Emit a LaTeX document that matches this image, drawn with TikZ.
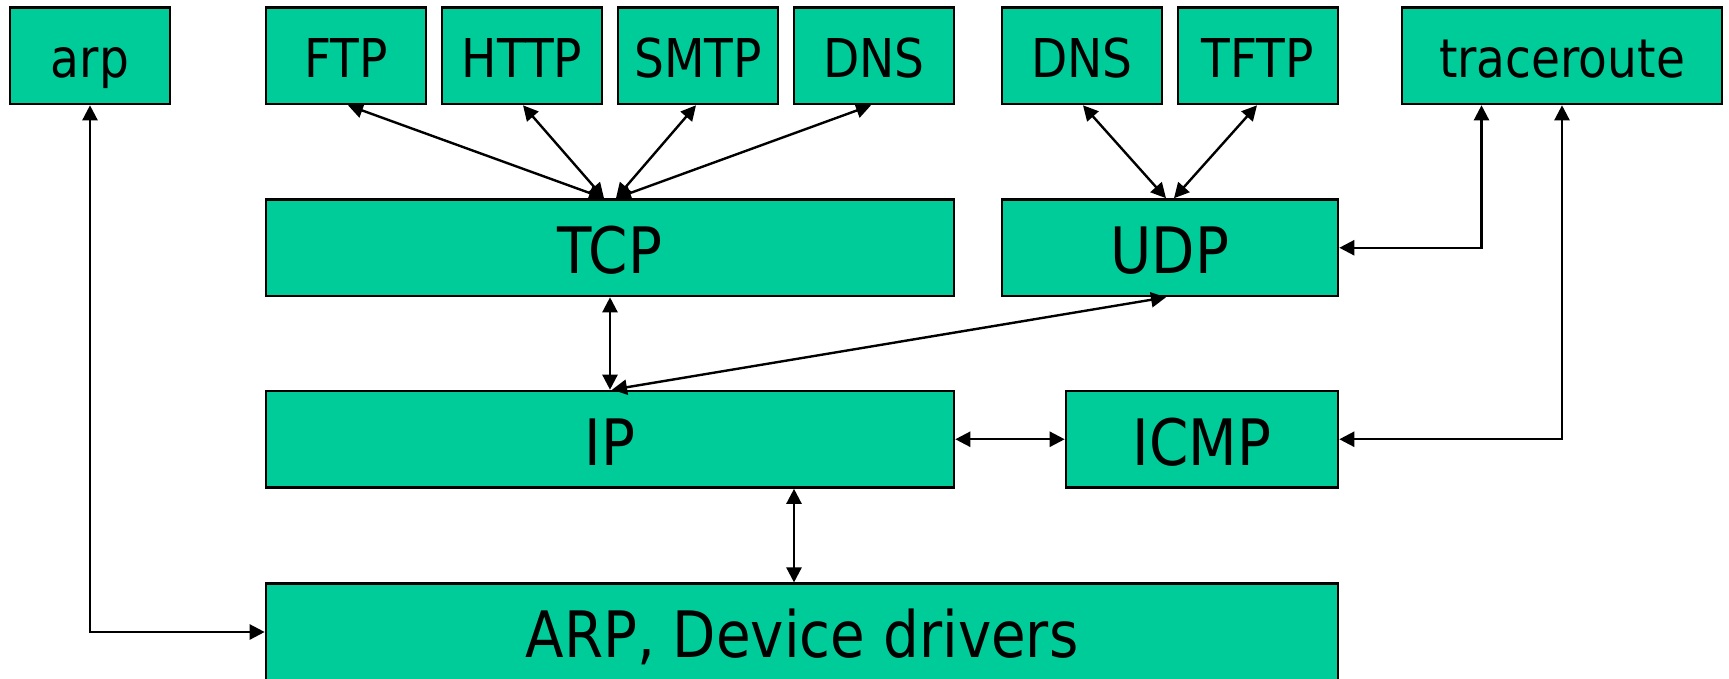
\documentclass[tikz,border=0pt]{standalone}
\usepackage{fontspec}
\setmainfont{DejaVu Sans}[FakeStretch=0.88]
\usetikzlibrary{arrows.meta,calc}
\definecolor{boxgreen}{RGB}{0,204,153}
\begin{document}
\begin{tikzpicture}[x=1pt,y=-1pt,
  box/.style={draw=black, line width=2.6pt, fill=boxgreen, inner sep=0pt, minimum height=96.5pt},
  smallbox/.style={box, font=\fontsize{53.5}{60}\selectfont, text height=43.1pt, text depth=0pt},
  largebox/.style={box, font=\fontsize{64}{72}\selectfont, text height=51.5pt, text depth=0pt},
  link/.style={line width=2.4pt, {Triangle[length=15pt,width=15pt]}-{Triangle[length=15pt,width=15pt]}}]
\path[fill=white, use as bounding box] (0,0) rectangle (1729,678);
% top row
\node[smallbox, minimum width=160pt] (arp)  at (90,55.75)   {arp};
\node[smallbox, minimum width=160pt] (ftp)  at (346,55.75)  {FTP};
\node[smallbox, minimum width=160pt] (http) at (522,55.75)  {HTTP};
\node[smallbox, minimum width=160pt] (smtp) at (698,55.75)  {SMTP};
\node[smallbox, minimum width=160pt] (dnsa) at (874,55.75)  {DNS};
\node[smallbox, minimum width=160pt] (dnsb) at (1082,55.75) {DNS};
\node[smallbox, minimum width=160pt] (tftp) at (1258,55.75) {TFTP};
\node[smallbox, minimum width=320pt] (tr)   at (1562,55.75) {traceroute};
% transport
\node[largebox, minimum width=688pt] (tcp)  at (610,247.75)  {TCP};
\node[largebox, minimum width=336pt] (udp)  at (1170,247.75) {UDP};
% network
\node[largebox, minimum width=688pt] (ip)   at (610,439.25)  {IP};
\node[largebox, minimum width=272pt] (icmp) at (1202,439.25) {ICMP};
% link
\node[largebox, minimum width=1072pt] (arpd) at (802,632) {ARP, Device drivers};
% connectors
\draw[link] ([xshift=-6pt]tcp.north) -- ([xshift=2pt]ftp.south);
\draw[link] ([xshift=-6pt]tcp.north) -- ([xshift=1pt]http.south);
\draw[link] ([xshift=6pt]tcp.north) -- ([xshift=-2pt]smtp.south);
\draw[link] ([xshift=6pt]tcp.north) -- ([xshift=-3pt]dnsa.south);
\draw[link] ([xshift=-4pt]udp.north) -- ([xshift=1pt]dnsb.south);
\draw[link] ([xshift=4pt]udp.north) -- ([xshift=-1pt]tftp.south);
\draw[link] (tcp.south) -- (ip.north);
\draw[link] ([xshift=2pt]ip.north) -- ([xshift=-4pt]udp.south);
\draw[link] (ip.east) -- (icmp.west);
\draw[link] ([xshift=-8pt]arpd.north) -- ([xshift=-8pt]arpd.north |- ip.south);
\draw[link] (arp.south) |- (arpd.west);
\draw[link] ([xshift=-80.5pt]tr.south) |- (udp.east);
\draw[link] (tr.south) |- (icmp.east);
\end{tikzpicture}
\end{document}
